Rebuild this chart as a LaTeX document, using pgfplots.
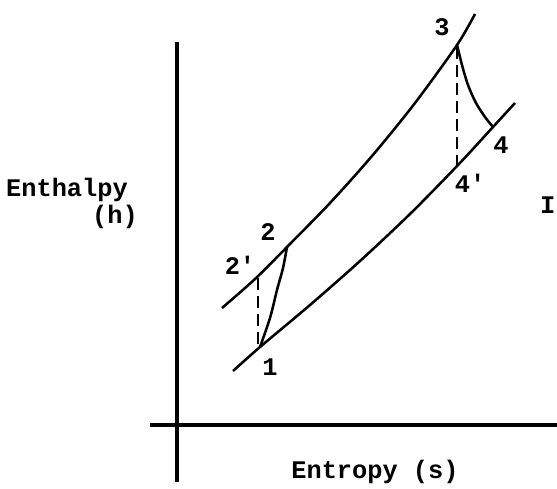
\documentclass[border=0pt]{standalone}
\usepackage{pgfplots}
\pgfplotsset{compat=1.18}
\usepackage{fontspec}
\setmainfont{Liberation Mono}
\begin{document}
\begin{tikzpicture}[font=\fontsize{19}{21}\selectfont\bfseries]
\begin{axis}[
  scale only axis, width=417.75pt, height=366.75pt,
  xmin=0, xmax=557, ymin=0, ymax=489, y dir=reverse,
  hide axis, clip=false
]
% axes
\addplot[black, line width=2.4pt] coordinates {(177,42) (177,482)};
\addplot[black, line width=2.4pt] coordinates {(150,425) (557,425)};
% high-pressure line
\addplot[black, line width=1.9pt, smooth] coordinates {
 (222,308) (255,279) (287,247) (330,203) (372,156) (415,103) (457,45) (475,14)};
% low-pressure line
\addplot[black, line width=1.9pt, smooth] coordinates {
 (233,371) (260,347) (310,305) (360,261) (410,214) (458,165) (493,127) (515,103)};
% expansion 3-4
\addplot[black, line width=1.9pt, smooth] coordinates {
 (457,45) (462,65) (468,85) (476,103) (485,117) (493,127)};
% compression 1-2
\addplot[black, line width=1.9pt, smooth] coordinates {
 (260,347) (270,318) (277,290) (283,268) (287,247)};
% isentropic dashed
\addplot[black, line width=1.9pt, dash pattern=on 9pt off 4.5pt] coordinates {(457,47) (457,165)};
\addplot[black, line width=1.9pt, dash pattern=on 9pt off 4.5pt] coordinates {(258,278) (258,347)};
% labels
\node[font=\fontsize{19}{21}\selectfont\bfseries] at (axis cs:442,27) {3};
\node[font=\fontsize{19}{21}\selectfont\bfseries] at (axis cs:501,145) {4};
\node[font=\fontsize{19}{21}\selectfont\bfseries] at (axis cs:470,183) {4\textquotesingle};
\node[font=\fontsize{19}{21}\selectfont\bfseries] at (axis cs:268,232) {2};
\node[font=\fontsize{19}{21}\selectfont\bfseries] at (axis cs:240,265) {2\textquotesingle};
\node[font=\fontsize{19}{21}\selectfont\bfseries] at (axis cs:270,367) {1};
\node[font=\fontsize{19}{21}\selectfont\bfseries, inner sep=0pt, anchor=base] at (axis cs:67,196) {Enthalpy};
\node[font=\fontsize{19}{21}\selectfont\bfseries, inner sep=0pt, anchor=base] at (axis cs:115,223) {(h)};
\node[font=\fontsize{19}{21}\selectfont\bfseries] at (axis cs:375,472) {Entropy (s)};
\node[font=\fontsize{19}{21}\selectfont\bfseries, inner sep=1pt, anchor=east] at (axis cs:557,205) {I};
\end{axis}
\pgfresetboundingbox
\useasboundingbox (current axis.south west) rectangle (current axis.north east);
\end{tikzpicture}
\end{document}
